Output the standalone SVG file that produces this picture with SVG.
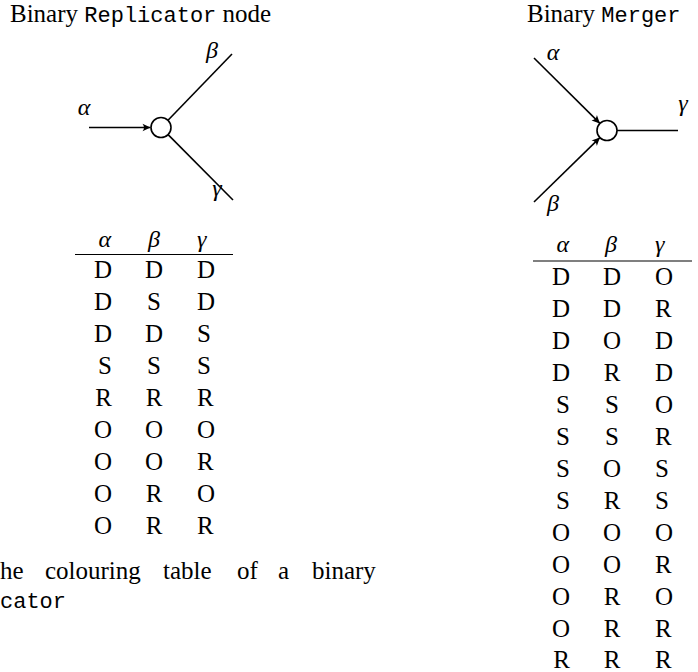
<svg xmlns="http://www.w3.org/2000/svg" width="698" height="672" viewBox="0 0 698 672">
<defs>
<marker id="arr" markerUnits="userSpaceOnUse" markerWidth="12" markerHeight="12" viewBox="-9 -6 12 12" refX="0" refY="0" orient="auto">
<path d="M0,0 L-8,-3.8 Q-5,0 -8,3.8 Z" fill="#000"/>
</marker>
</defs>
<style>
text{fill:#000}
.rm{font-family:"Liberation Serif","Times New Roman",serif;font-size:25px}
.tt{font-family:"Liberation Mono","Courier New",monospace;font-size:22px}
.mi{font-family:"Liberation Serif","Times New Roman",serif;font-size:24px;font-style:italic}
.edge{stroke:#000;stroke-width:1.6;fill:none}
.node{stroke:#000;stroke-width:1.6;fill:#fff}
.rule{stroke:#000;stroke-width:1.2}
.c1{text-anchor:end}
.c2{text-anchor:middle}
.c3{text-anchor:start}
</style>

<g id="replicator-title">
<text class="rm" x="10" y="22">Binary <tspan class="tt">Replicator</tspan> node</text>
</g>

<g id="replicator-connectors">
<line class="edge" x1="89" y1="127.5" x2="150.5" y2="127.5" marker-end="url(#arr)"/>
<line class="edge" x1="168" y1="120.3" x2="232" y2="54"/>
<line class="edge" x1="168.1" y1="134.6" x2="233" y2="200"/>
</g>
<g id="replicator-node">
<circle class="node" cx="161" cy="127.5" r="10"/>
</g>
<g id="replicator-labels">
<text class="mi c2" x="84" y="115">α</text>
<text class="mi c2" x="212" y="58">β</text>
<text class="mi c2" x="217" y="196">γ</text>
</g>

<g id="replicator-table">
<text class="mi c1" x="111" y="247">α</text>
<text class="mi c2" x="154" y="247">β</text>
<text class="mi c3" x="197" y="247">γ</text>
<line class="rule" x1="75" y1="254.5" x2="233" y2="254.5"/>
<g class="rm">
<text class="c1" x="112" y="278">D</text><text class="c2" x="154" y="278">D</text><text class="c3" x="197" y="278">D</text>
<text class="c1" x="112" y="310">D</text><text class="c2" x="154" y="310">S</text><text class="c3" x="197" y="310">D</text>
<text class="c1" x="112" y="342">D</text><text class="c2" x="154" y="342">D</text><text class="c3" x="197" y="342">S</text>
<text class="c1" x="112" y="374">S</text><text class="c2" x="154" y="374">S</text><text class="c3" x="197" y="374">S</text>
<text class="c1" x="112" y="406">R</text><text class="c2" x="154" y="406">R</text><text class="c3" x="197" y="406">R</text>
<text class="c1" x="112" y="438">O</text><text class="c2" x="154" y="438">O</text><text class="c3" x="197" y="438">O</text>
<text class="c1" x="112" y="470">O</text><text class="c2" x="154" y="470">O</text><text class="c3" x="197" y="470">R</text>
<text class="c1" x="112" y="502">O</text><text class="c2" x="154" y="502">R</text><text class="c3" x="197" y="502">O</text>
<text class="c1" x="112" y="534">O</text><text class="c2" x="154" y="534">R</text><text class="c3" x="197" y="534">R</text>
</g>
</g>

<g id="caption">
<text class="rm" x="0" y="579">he</text>
<text class="rm" x="45" y="579">colouring</text>
<text class="rm" x="163" y="579">table</text>
<text class="rm" x="237" y="579">of</text>
<text class="rm" x="278" y="579">a</text>
<text class="rm" x="312" y="579">binary</text>
<text class="tt" x="0" y="608">cator</text>
</g>

<g id="merger-title">
<text class="rm" x="527" y="22">Binary <tspan class="tt">Merger</tspan></text>
</g>

<g id="merger-connectors">
<line class="edge" x1="534" y1="58" x2="599.9" y2="123.4" marker-end="url(#arr)"/>
<line class="edge" x1="534" y1="202" x2="599.9" y2="137.6" marker-end="url(#arr)"/>
<line class="edge" x1="617" y1="130.5" x2="678" y2="130.5"/>
</g>
<g id="merger-node">
<circle class="node" cx="607" cy="130.5" r="10"/>
</g>
<g id="merger-labels">
<text class="mi c2" x="553" y="60">α</text>
<text class="mi c2" x="553" y="211">β</text>
<text class="mi c2" x="683" y="111">γ</text>
</g>

<g id="merger-table">
<text class="mi c1" x="569" y="252">α</text>
<text class="mi c2" x="611" y="252">β</text>
<text class="mi c3" x="655" y="252">γ</text>
<line class="rule" x1="533" y1="261" x2="692" y2="261"/>
<g class="rm">
<text class="c1" x="570" y="285">D</text><text class="c2" x="612" y="285">D</text><text class="c3" x="655" y="285">O</text>
<text class="c1" x="570" y="317">D</text><text class="c2" x="612" y="317">D</text><text class="c3" x="655" y="317">R</text>
<text class="c1" x="570" y="349">D</text><text class="c2" x="612" y="349">O</text><text class="c3" x="655" y="349">D</text>
<text class="c1" x="570" y="381">D</text><text class="c2" x="612" y="381">R</text><text class="c3" x="655" y="381">D</text>
<text class="c1" x="570" y="413">S</text><text class="c2" x="612" y="413">S</text><text class="c3" x="655" y="413">O</text>
<text class="c1" x="570" y="445">S</text><text class="c2" x="612" y="445">S</text><text class="c3" x="655" y="445">R</text>
<text class="c1" x="570" y="477">S</text><text class="c2" x="612" y="477">O</text><text class="c3" x="655" y="477">S</text>
<text class="c1" x="570" y="509">S</text><text class="c2" x="612" y="509">R</text><text class="c3" x="655" y="509">S</text>
<text class="c1" x="570" y="541">O</text><text class="c2" x="612" y="541">O</text><text class="c3" x="655" y="541">O</text>
<text class="c1" x="570" y="573">O</text><text class="c2" x="612" y="573">O</text><text class="c3" x="655" y="573">R</text>
<text class="c1" x="570" y="605">O</text><text class="c2" x="612" y="605">R</text><text class="c3" x="655" y="605">O</text>
<text class="c1" x="570" y="637">O</text><text class="c2" x="612" y="637">R</text><text class="c3" x="655" y="637">R</text>
<text class="c1" x="570" y="668">R</text><text class="c2" x="612" y="668">R</text><text class="c3" x="655" y="668">R</text>
</g>
</g>
</svg>
